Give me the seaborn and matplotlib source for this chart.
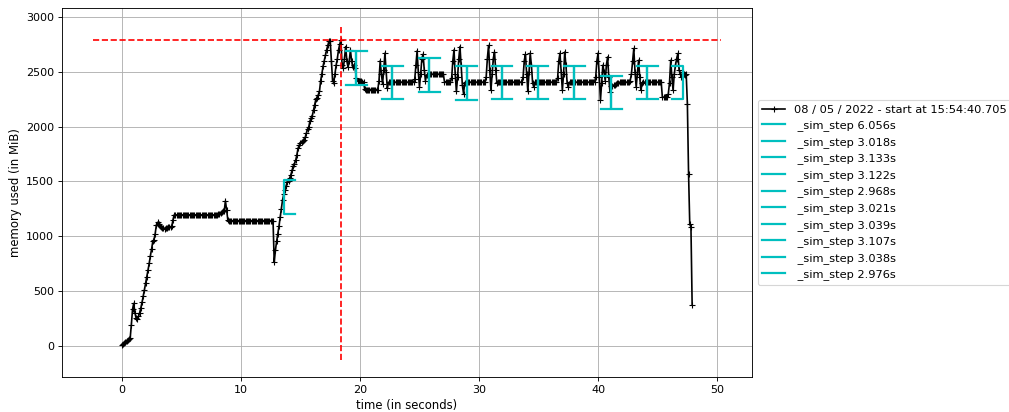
import numpy as np
import matplotlib
matplotlib.use("Agg")
import matplotlib.pyplot as plt
import seaborn as sns

# mprof samples memory every 0.1 s
sample_interval = 0.1
mem_mib = [
    5, 12, 22, 30, 40, 48, 55, 65, 190, 330,
    385, 300, 250, 240, 265, 300, 345, 395, 450, 510,
    570, 630, 690, 750, 820, 880, 950, 965, 1020, 1100,
    1125, 1110, 1095, 1085, 1075, 1070, 1068, 1070, 1072, 1080,
    1080, 1085, 1090, 1150, 1193, 1193, 1193, 1193, 1193, 1193,
    1193, 1193, 1193, 1193, 1193, 1193, 1193, 1193, 1193, 1193,
    1193, 1193, 1193, 1193, 1193, 1193, 1193, 1193, 1193, 1193,
    1193, 1193, 1193, 1193, 1193, 1193, 1193, 1193, 1193, 1193,
    1193, 1200, 1205, 1210, 1215, 1225, 1228, 1320, 1240, 1150,
    1140, 1140, 1140, 1140, 1140, 1140, 1140, 1140, 1140, 1140,
    1140, 1140, 1140, 1140, 1140, 1140, 1140, 1140, 1140, 1140,
    1140, 1140, 1140, 1140, 1140, 1140, 1140, 1140, 1140, 1140,
    1140, 1140, 1140, 1140, 1140, 1140, 1140, 1140, 760, 870,
    950, 1020, 1090, 1170, 1250, 1330, 1380, 1420, 1460, 1490,
    1500, 1530, 1560, 1600, 1640, 1660, 1690, 1740, 1800, 1830,
    1845, 1855, 1870, 1880, 1900, 1940, 1975, 1995, 2050, 2080,
    2100, 2150, 2200, 2250, 2260, 2290, 2320, 2420, 2480, 2550,
    2600, 2650, 2700, 2740, 2780, 2785, 2600, 2420, 2400, 2480,
    2560, 2620, 2700, 2750, 2790, 2560, 2530, 2620, 2730, 2600,
    2540, 2600, 2697, 2600, 2540, 2560, 2532, 2440, 2420, 2415,
    2415, 2415, 2410, 2410, 2340, 2338, 2338, 2338, 2338, 2338,
    2338, 2338, 2338, 2338, 2338, 2338, 2420, 2600, 2480, 2390,
    2520, 2670, 2500, 2350, 2404, 2405, 2405, 2405, 2405, 2405,
    2405, 2405, 2405, 2405, 2405, 2405, 2405, 2405, 2405, 2405,
    2405, 2405, 2405, 2405, 2405, 2405, 2430, 2560, 2690, 2500,
    2360, 2480, 2620, 2660, 2520, 2420, 2470, 2470, 2478, 2478,
    2478, 2478, 2478, 2478, 2478, 2478, 2478, 2478, 2478, 2478,
    2478, 2410, 2408, 2408, 2408, 2408, 2408, 2440, 2600, 2700,
    2480, 2320, 2450, 2620, 2730, 2560, 2380, 2300, 2400, 2405,
    2405, 2405, 2405, 2405, 2405, 2405, 2405, 2405, 2405, 2405,
    2405, 2405, 2405, 2405, 2405, 2405, 2450, 2620, 2740, 2520,
    2330, 2480, 2620, 2680, 2520, 2400, 2405, 2405, 2405, 2405,
    2405, 2405, 2405, 2405, 2405, 2405, 2405, 2405, 2405, 2405,
    2405, 2405, 2405, 2405, 2405, 2405, 2405, 2450, 2600, 2660,
    2480, 2320, 2500, 2670, 2560, 2400, 2360, 2405, 2405, 2405,
    2405, 2405, 2405, 2405, 2405, 2405, 2405, 2405, 2405, 2405,
    2405, 2405, 2405, 2405, 2405, 2405, 2440, 2600, 2670, 2500,
    2330, 2480, 2680, 2560, 2400, 2360, 2405, 2405, 2405, 2405,
    2405, 2405, 2405, 2405, 2405, 2405, 2405, 2405, 2405, 2405,
    2405, 2405, 2405, 2405, 2405, 2405, 2405, 2405, 2450, 2600,
    2670, 2450, 2240, 2400, 2560, 2500, 2420, 2560, 2635, 2450,
    2312, 2370, 2372, 2375, 2380, 2390, 2395, 2400, 2405, 2405,
    2405, 2405, 2405, 2405, 2405, 2405, 2405, 2420, 2480, 2600,
    2713, 2500, 2360, 2480, 2605, 2450, 2330, 2400, 2405, 2405,
    2405, 2405, 2405, 2405, 2405, 2405, 2405, 2405, 2405, 2405,
    2405, 2405, 2405, 2405, 2268, 2268, 2268, 2268, 2268, 2300,
    2400, 2605, 2450, 2330, 2480, 2560, 2620, 2667, 2520, 2480,
    2450, 2500, 2480, 2470, 2483, 2208, 1566, 1107, 1083, 373,
]

# function timestamps (seconds from start) and memory at entry / exit
func_name = "_sim_step"
call_start = [13.630, 19.686, 22.704, 25.837, 28.959, 31.927, 34.948, 37.987, 41.094, 44.132]
call_end = [19.686, 22.704, 25.837, 28.959, 31.927, 34.948, 37.987, 41.094, 44.132, 47.108]
call_mem_start = [1355, 2532, 2404, 2468, 2399, 2404, 2404, 2404, 2312, 2404]
call_mem_end = [2532, 2404, 2468, 2399, 2404, 2404, 2404, 2312, 2404, 2404]

line_label = "08 / 05 / 2022 - start at 15:54:40.705"

t = np.arange(len(mem_mib)) * sample_interval
mem = np.array(mem_mib, dtype=float)

# figure rendered at 80 dpi -> 1009 x 412 px
fig, ax = plt.subplots(figsize=(1009 / 80, 412 / 80), dpi=80)

sns.lineplot(x=t, y=mem, color="k", marker="+", markersize=6,
             markeredgecolor="k", markeredgewidth=1.0, linewidth=1.5,
             label=line_label, estimator=None, sort=False, ax=ax)

bottom, top = ax.get_ylim()
left, right = ax.get_xlim()

# brackets like mprof: '[' at call entry, ']' at call exit
vsize = (top - bottom) / 20.
hsize = (right - left) / 60.
bx = np.array([hsize, 0, 0, hsize])
by = np.array([vsize, vsize, -vsize, -vsize])
for s, e, m0, m1 in zip(call_start, call_end, call_mem_start, call_mem_end):
    sns.lineplot(x=bx + s, y=by + m0, color="c", linewidth=2,
                 estimator=None, sort=False,
                 label=" %s %.3fs" % (func_name, e - s), ax=ax)
    sns.lineplot(x=-bx + e, y=by + m1, color="c", linewidth=2,
                 estimator=None, sort=False, ax=ax)

# max memory markers
imax = int(np.argmax(mem))
ax.hlines(mem[imax], left + 0.001, right - 0.001, colors="r", linestyles="--")
ax.vlines(t[imax], bottom + 0.001, top - 0.001, colors="r", linestyles="--")

ax.set_xlabel("time (in seconds)", fontsize=10.5)
ax.set_ylabel("memory used (in MiB)", fontsize=10.5)
ax.grid(True)
ax.legend(loc="center left", bbox_to_anchor=(1, 0.5), fontsize=10.2)

fig.subplots_adjust(left=0.0614, right=0.7453, top=0.9806, bottom=0.085)
fig.savefig("out.png", dpi=80)
